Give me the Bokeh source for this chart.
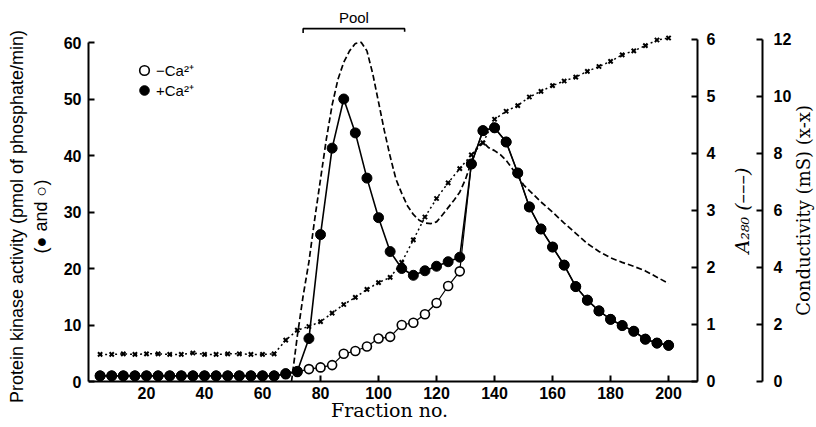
import math
from bokeh.plotting import figure
from bokeh.models import Range1d, LinearAxis, FixedTicker, Legend, LegendItem, Label
from bokeh.embed import file_html
from bokeh.resources import INLINE

# ---------------- data ----------------
fractions = [4, 8, 12, 16, 20, 24, 28, 32, 36, 40, 44, 48, 52, 56, 60, 64,
             68, 72, 76, 80, 84, 88, 92, 96, 100, 104, 108, 112, 116, 120, 124, 128,
             132, 136, 140, 144, 148, 152, 156, 160, 164, 168, 172, 176, 180, 184,
             188, 192, 196, 200]

# Protein kinase activity, +Ca2+ (filled circles)
plus_ca = [1.0, 1.0, 1.0, 1.0, 1.0, 1.0, 1.0, 1.0, 1.0, 1.0, 1.0, 1.0, 1.0, 1.0, 1.0, 1.0,
           1.4, 1.8, 7.6, 26.0, 41.3, 50.0, 44.0, 36.0, 29.0, 23.0, 20.0, 18.8, 19.6, 20.4, 21.2, 22.0,
           38.5, 44.4, 44.9, 42.4, 36.9, 30.9, 27.0, 23.8, 20.6, 16.8, 14.4, 12.5, 11.0, 9.9,
           8.9, 7.5, 6.8, 6.4]

# Protein kinase activity, -Ca2+ (open circles)
minus_ca = [1.0, 1.0, 1.0, 1.0, 1.0, 1.0, 1.0, 1.0, 1.0, 1.0, 1.0, 1.0, 1.0, 1.0, 1.0, 1.0,
            1.3, 1.7, 2.2, 2.5, 2.9, 4.9, 5.4, 6.2, 7.6, 7.9, 10.0, 10.4, 11.9, 13.9, 16.9, 19.5,
            38.5, 44.4, 44.9, 42.4, 36.9, 30.9, 27.0, 23.8, 20.6, 16.8, 14.4, 12.5, 11.0, 9.9,
            8.9, 7.5, 6.8, 6.4]

# Conductivity (mS), x-x
conductivity = [0.95, 0.95, 0.97, 0.95, 0.97, 0.97, 0.95, 0.95, 1.0, 0.95, 0.95, 0.97, 0.97, 0.95, 0.95, 0.97,
                1.45, 1.8, 1.93, 2.1, 2.4, 2.7, 2.95, 3.23, 3.47, 3.65, 4.18, 4.97, 5.77, 6.42, 6.97, 7.47,
                7.95, 8.37, 9.2, 9.48, 9.68, 9.98, 10.18, 10.38, 10.54, 10.68, 10.88, 11.05, 11.23, 11.46,
                11.6, 11.78, 11.98, 12.05]

# Absorbance at 280 nm (dashed curve)
a280_frac = [70, 72, 74, 76, 78, 80, 82, 84, 86, 88, 90, 92, 94, 96, 98, 100, 102, 104, 106, 108,
             110, 112, 114, 116, 118, 120, 122, 124, 126, 128, 130, 132, 134, 136, 138, 140, 142,
             144, 146, 148, 150, 152, 156, 160, 164, 168, 172, 176, 180, 184, 188, 192, 196, 200]
a280_vals = [0.0, 0.8, 1.5, 2.1, 2.85, 3.55, 4.25, 4.85, 5.3, 5.6, 5.8, 5.93, 5.95, 5.8, 5.4, 4.9,
             4.4, 3.95, 3.55, 3.3, 3.08, 2.93, 2.83, 2.78, 2.77, 2.8, 2.92, 3.05, 3.18, 3.32, 3.55,
             3.85, 4.12, 4.2, 4.1, 4.05, 3.98, 3.88, 3.74, 3.6, 3.45, 3.35, 3.15, 2.97, 2.78, 2.6,
             2.42, 2.28, 2.17, 2.09, 2.02, 1.94, 1.83, 1.72]

# pooled fractions
pool_start = 74
pool_end = 109

x_ticks = [20, 40, 60, 80, 100, 120, 140, 160, 180, 200]
left_ticks = [0, 10, 20, 30, 40, 50, 60]
a280_ticks = [0, 1, 2, 3, 4, 5, 6]
cond_ticks = [0, 2, 4, 6, 8, 10, 12]

# ---------------- layout constants ----------------
X_AXIS_END = 210          # fraction where the plotting box ends (A280 axis)
COND_AXIS_AT = 232.4      # x position (in fraction units) of the conductivity axis
X_VIEW_END = 251          # frame continues to the right edge to host the right axes
A280_TITLE_X = 225.2
COND_TITLE_X = 246.5
XTITLE_X = 103.8
XTITLE_Y = -5.1

# ---------------- figure ----------------
p = figure(width=816, height=427, output_backend="svg", toolbar_location=None,
           x_range=Range1d(0, X_VIEW_END), y_range=Range1d(-8.14, 66.55),
           x_axis_location=None, y_axis_location=None,
           min_border_left=88, min_border_right=0, min_border_top=5, min_border_bottom=0)
p.outline_line_color = None
p.background_fill_color = "white"
p.border_fill_color = "white"
p.grid.visible = False
p.extra_y_ranges = {"a280": Range1d(-0.807, 6.596), "cond": Range1d(-1.614, 13.19)}

TICK_FONT = "Liberation Sans"


def style_axis(ax, label_std, axis_label_std):
    ax.axis_line_width = 2
    ax.axis_line_color = "black"
    ax.major_tick_line_width = 2
    ax.major_tick_line_color = "black"
    ax.major_tick_in = 6
    ax.major_tick_out = 0
    ax.minor_tick_line_color = None
    ax.major_label_text_font = TICK_FONT
    ax.major_label_text_font_size = "16px"
    ax.major_label_text_font_style = "bold"
    ax.major_label_text_color = "black"
    ax.major_label_standoff = label_std
    ax.axis_label_standoff = axis_label_std
    ax.axis_label_text_color = "black"
    ax.axis_label_text_font_style = "normal"


xaxis = LinearAxis(ticker=FixedTicker(ticks=x_ticks), bounds=(0, X_AXIS_END), fixed_location=0)
style_axis(xaxis, 5, 2)
p.add_layout(xaxis, "below")

yaxis = LinearAxis(ticker=FixedTicker(ticks=left_ticks), bounds=(0, 60),
                   axis_label="Protein kinase activity (pmol of phosphate/min)\n(\u25cf and \u25cb)")
style_axis(yaxis, 7, 10)
yaxis.axis_label_text_font = "Liberation Sans"
yaxis.axis_label_text_font_size = "18px"
p.add_layout(yaxis, "left")

a_ax = LinearAxis(y_range_name="a280", ticker=FixedTicker(ticks=a280_ticks), bounds=(0, 6),
                  fixed_location=X_AXIS_END)
style_axis(a_ax, 9, 0)
p.add_layout(a_ax, "right")

c_ax = LinearAxis(y_range_name="cond", ticker=FixedTicker(ticks=cond_ticks), bounds=(0, 12),
                  fixed_location=COND_AXIS_AT)
style_axis(c_ax, 11, 0)
p.add_layout(c_ax, "right")

# axis titles placed as labels
p.add_layout(Label(x=XTITLE_X, y=XTITLE_Y, text="Fraction no.", text_align="center",
                   text_baseline="middle", text_font="DejaVu Serif", text_font_size="19px",
                   text_color="black"))
p.add_layout(Label(x=A280_TITLE_X, y=3.0, y_range_name="a280", angle=math.pi / 2,
                   text="A\u2082\u2088\u2080 (\u2013\u2013\u2013)", text_align="center",
                   text_baseline="middle", text_font="DejaVu Serif", text_font_size="19px",
                   text_font_style="italic", text_color="black"))
p.add_layout(Label(x=COND_TITLE_X, y=6.0, y_range_name="cond", angle=math.pi / 2,
                   text="Conductivity (mS) (x-x)", text_align="center",
                   text_baseline="middle", text_font="DejaVu Serif", text_font_size="18px",
                   text_color="black"))

# ---------------- glyphs ----------------
# conductivity
p.line(fractions, conductivity, y_range_name="cond", line_color="black",
       line_width=1.5, line_dash="2 3")
p.scatter(fractions, conductivity, y_range_name="cond", marker="x", size=6,
          line_color="black", line_width=2)

# A280
p.line(a280_frac, a280_vals, y_range_name="a280", line_color="black",
       line_width=1.7, line_dash="6 3")

# -Ca2+
p.line(fractions, minus_ca, line_color="black", line_width=1.2)
open_r = p.scatter(fractions, minus_ca, marker="circle", size=9, fill_color="white",
                   line_color="black", line_width=1.6)

# +Ca2+
p.line(fractions, plus_ca, line_color="black", line_width=1.6)
filled_r = p.scatter(fractions, plus_ca, marker="circle", size=10, fill_color="black",
                     line_color="black")

# pool bracket
p.line([pool_start, pool_start, pool_end, pool_end], [61.7, 62.45, 62.45, 61.9],
       line_color="black", line_width=1.6)
p.add_layout(Label(x=(pool_start + pool_end) / 2, y=64.4, text="Pool", text_align="center",
                   text_baseline="middle", text_font="Liberation Sans", text_font_size="15px",
                   text_color="black"))


def make_legend(label, renderer, loc):
    lg = Legend(items=[LegendItem(label=label, renderers=[renderer])], location=loc)
    lg.border_line_color = None
    lg.background_fill_alpha = 0
    lg.padding = 0
    lg.margin = 0
    lg.spacing = 0
    lg.glyph_width = 24
    lg.glyph_height = 24
    lg.label_height = 16
    lg.label_standoff = 0
    lg.label_text_font = "Liberation Sans"
    lg.label_text_font_size = "15px"
    lg.label_text_color = "black"
    return lg


p.add_layout(make_legend("\u2212Ca\u00b2\u207a", open_r, (44, 345)))
p.add_layout(make_legend("+Ca\u00b2\u207a", filled_r, (44, 325)))

open("out.html", "w").write(file_html(p, INLINE))
